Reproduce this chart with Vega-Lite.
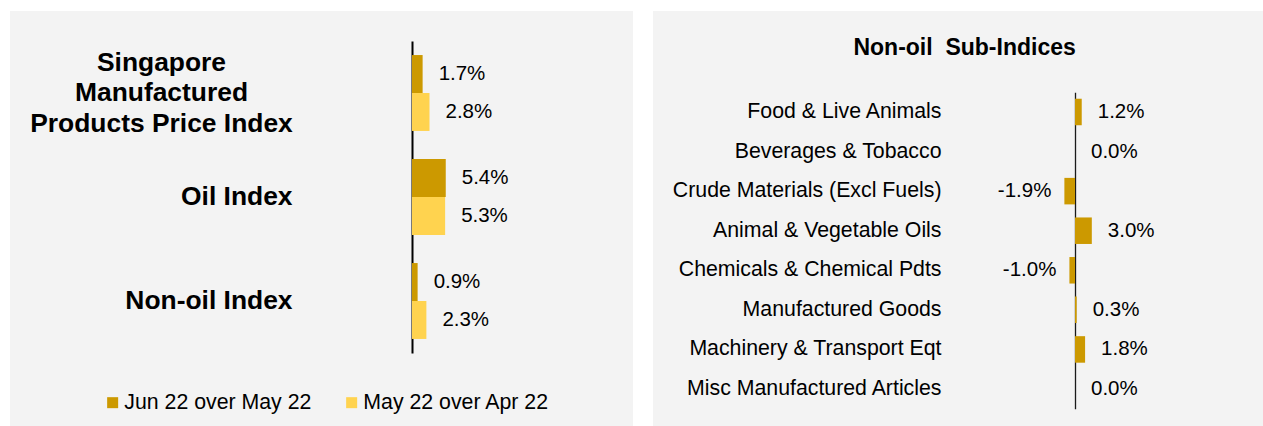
{
  "$schema": "https://vega.github.io/schema/vega-lite/v6.json",
  "background": "white",
  "padding": {"left": 10, "top": 11, "right": 0, "bottom": 0},
  "autosize": {"type": "pad"},
  "spacing": 20,
  "config": {
    "view": {"fill": "#f3f3f3", "stroke": null},
    "font": "Liberation Sans",
    "text": {"font": "Liberation Sans"}
  },
  "datasets": {
    "main": [
      {"index": "Singapore Manufactured Products Price Index", "period": "Jun 22 over May 22", "value": 1.7, "label": "1.7%"},
      {"index": "Singapore Manufactured Products Price Index", "period": "May 22 over Apr 22", "value": 2.8, "label": "2.8%"},
      {"index": "Oil Index", "period": "Jun 22 over May 22", "value": 5.4, "label": "5.4%"},
      {"index": "Oil Index", "period": "May 22 over Apr 22", "value": 5.3, "label": "5.3%"},
      {"index": "Non-oil Index", "period": "Jun 22 over May 22", "value": 0.9, "label": "0.9%"},
      {"index": "Non-oil Index", "period": "May 22 over Apr 22", "value": 2.3, "label": "2.3%"}
    ],
    "sub": [
      {"sector": "Food & Live Animals", "value": 1.2, "label": "1.2%"},
      {"sector": "Beverages & Tobacco", "value": 0.0, "label": "0.0%"},
      {"sector": "Crude Materials (Excl Fuels)", "value": -1.9, "label": "-1.9%"},
      {"sector": "Animal & Vegetable Oils", "value": 3.0, "label": "3.0%"},
      {"sector": "Chemicals & Chemical Pdts", "value": -1.0, "label": "-1.0%"},
      {"sector": "Manufactured Goods", "value": 0.3, "label": "0.3%"},
      {"sector": "Machinery & Transport Eqt", "value": 1.8, "label": "1.8%"},
      {"sector": "Misc Manufactured Articles", "value": 0.0, "label": "0.0%"}
    ]
  },
  "hconcat": [
    {
      "width": 623,
      "height": 415,
      "data": {"name": "main"},
      "encoding": {
        "y": {
          "field": "index",
          "type": "nominal",
          "sort": ["Singapore Manufactured Products Price Index", "Oil Index", "Non-oil Index"],
          "scale": {"range": [30, 342], "paddingInner": 0.27, "paddingOuter": 0.135},
          "axis": {
            "title": null,
            "orient": "left",
            "offset": -402,
            "domainColor": "#000000",
            "domainWidth": 2,
            "ticks": false,
            "labelFont": "Liberation Sans",
            "labelFontWeight": "bold",
            "labelFontSize": 26.4,
            "labelColor": "#000000",
            "labelLineHeight": 30.5,
            "labelOverlap": false,
            "labelLimit": 0,
            "labelBaseline": "middle",
            "labelAlign": {"condition": {"test": "datum.value == 'Singapore Manufactured Products Price Index'", "value": "center"}, "value": "right"},
            "labelPadding": {"condition": {"test": "datum.value == 'Singapore Manufactured Products Price Index'", "value": 251}, "value": 120},
            "labelOffset": {"condition": {"test": "datum.value == 'Singapore Manufactured Products Price Index'", "value": -30.5}, "value": 0},
            "labelExpr": "datum.value == 'Singapore Manufactured Products Price Index' ? ['Singapore', 'Manufactured', 'Products Price Index'] : datum.label"
          }
        },
        "yOffset": {
          "field": "period",
          "type": "nominal",
          "sort": ["Jun 22 over May 22", "May 22 over Apr 22"],
          "scale": {"paddingInner": 0, "paddingOuter": 0}
        },
        "x": {
          "field": "value",
          "type": "quantitative",
          "scale": {"domain": [-64.32, 35.36], "nice": false, "zero": false},
          "axis": null
        }
      },
      "layer": [
        {
          "mark": {"type": "bar"},
          "encoding": {
            "color": {
              "field": "period",
              "type": "nominal",
              "scale": {"domain": ["Jun 22 over May 22", "May 22 over Apr 22"], "range": ["#CC9900", "#FFD34F"]},
              "legend": {
                "title": null,
                "orient": "none",
                "legendX": 92,
                "legendY": 381,
                "direction": "horizontal",
                "symbolType": "square",
                "symbolSize": 121,
                "symbolStrokeWidth": 0,
                "labelFontSize": 21.3,
                "labelFont": "Liberation Sans",
                "labelColor": "#000000",
                "labelOffset": 1,
                "columnPadding": 29,
                "padding": 0,
                "labelLimit": 0
              }
            }
          }
        },
        {
          "mark": {"type": "text", "align": "left", "baseline": "middle", "dx": 16, "fontSize": 20.5, "color": "#000000", "font": "Liberation Sans"},
          "encoding": {"text": {"field": "label", "type": "nominal"}}
        }
      ]
    },
    {
      "width": 610,
      "height": 415,
      "data": {"name": "sub"},
      "title": {
        "text": "Non-oil\u00a0 Sub-Indices",
        "font": "Liberation Sans",
        "fontSize": 23,
        "fontWeight": "bold",
        "color": "#000000",
        "anchor": "middle",
        "frame": "group",
        "offset": -67,
        "dx": 6.6,
        "baseline": "alphabetic"
      },
      "encoding": {
        "y": {
          "field": "sector",
          "type": "nominal",
          "sort": ["Food & Live Animals", "Beverages & Tobacco", "Crude Materials (Excl Fuels)", "Animal & Vegetable Oils", "Chemicals & Chemical Pdts", "Manufactured Goods", "Machinery & Transport Eqt", "Misc Manufactured Articles"],
          "scale": {"range": [81.2, 397.8], "paddingInner": 0.33, "paddingOuter": 0.165},
          "axis": {
            "title": null,
            "orient": "left",
            "offset": -422,
            "domainColor": "#1a1a1a",
            "domainWidth": 1.3,
            "ticks": false,
            "labelFont": "Liberation Sans",
            "labelFontSize": 21.3,
            "labelColor": "#000000",
            "labelPadding": 134,
            "labelAlign": "right",
            "labelOverlap": false,
            "labelLimit": 0
          }
        },
        "x": {
          "field": "value",
          "type": "quantitative",
          "scale": {"domain": [-75.36, 33.57], "nice": false, "zero": false},
          "axis": null
        }
      },
      "layer": [
        {"mark": {"type": "bar", "color": "#CC9900"}},
        {
          "transform": [{"filter": "datum.value >= 0"}],
          "mark": {"type": "text", "align": "left", "baseline": "middle", "dx": 16, "fontSize": 20.5, "color": "#000000", "font": "Liberation Sans"},
          "encoding": {"text": {"field": "label", "type": "nominal"}}
        },
        {
          "transform": [{"filter": "datum.value < 0"}],
          "mark": {"type": "text", "align": "right", "baseline": "middle", "dx": -13, "fontSize": 20.5, "color": "#000000", "font": "Liberation Sans"},
          "encoding": {"text": {"field": "label", "type": "nominal"}}
        }
      ]
    }
  ]
}
